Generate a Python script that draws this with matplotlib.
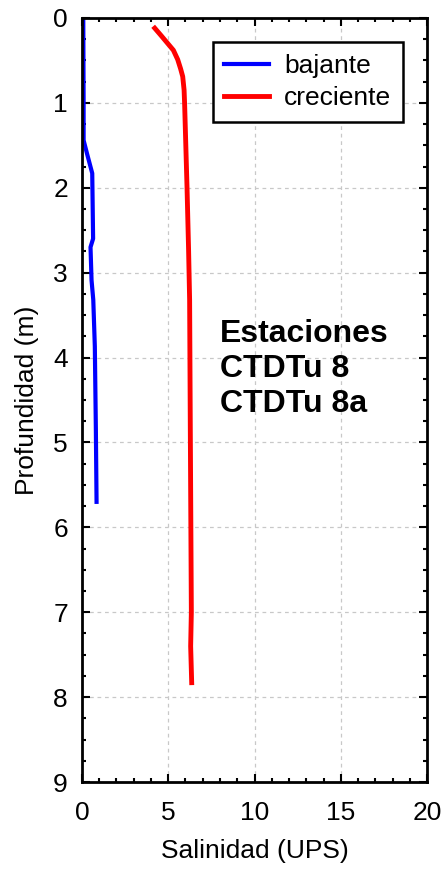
import matplotlib
matplotlib.use("Agg")
import matplotlib.pyplot as plt
from matplotlib.ticker import MultipleLocator

plt.rcParams['font.family'] = ['Liberation Sans', 'DejaVu Sans']

# bajante (blue): salinity vs depth
baj_sal = [0.08, 0.09, 0.10, 0.10, 0.30, 0.60, 0.65, 0.50, 0.56, 0.66, 0.75, 0.81, 0.85]
baj_dep = [0.00, 0.50, 1.00, 1.44, 1.60, 1.83, 2.60, 2.70, 3.09, 3.32, 3.87, 4.85, 5.70]

# creciente (red)
cre_sal = [4.22, 4.60, 4.97, 5.30, 5.55, 5.72, 5.84, 5.92, 5.95, 6.09, 6.18, 6.24, 6.28, 6.34, 6.30, 6.36]
cre_dep = [0.12, 0.21, 0.30, 0.38, 0.49, 0.60, 0.69, 0.85, 1.01, 2.00, 2.73, 3.32, 4.85, 7.00, 7.40, 7.83]

xticks = [0, 5, 10, 15, 20]
yticks = [0, 1, 2, 3, 4, 5, 6, 7, 8, 9]
xlabel = "Salinidad (UPS)"
ylabel = "Profundidad (m)"
series_labels = ["bajante", "creciente"]
annot = "Estaciones\nCTDTu 8\nCTDTu 8a"

fig = plt.figure(figsize=(4.45, 8.76), dpi=100)
ax = fig.add_axes([0.184, 0.1073, 0.776, 0.8722])

ax.plot(baj_sal, baj_dep, color='#0000ff', lw=3, label=series_labels[0])
ax.plot(cre_sal, cre_dep, color='#ff0000', lw=3.5, label=series_labels[1])

ax.set_xlim(0, 20)
ax.set_ylim(9, 0)
ax.set_xticks(xticks)
ax.set_yticks(yticks)
ax.xaxis.set_minor_locator(MultipleLocator(1))
ax.yaxis.set_minor_locator(MultipleLocator(0.25))
ax.tick_params(which='both', direction='in', top=True, right=True, labelsize=19, width=1.5)
ax.tick_params(which='major', length=6)
ax.tick_params(axis='x', which='major', pad=14)
ax.tick_params(axis='y', which='major', pad=10)
ax.tick_params(which='minor', length=3)
ax.grid(True, which='major', ls=(0, (3, 3)), color='#c8c8c8', lw=0.9)
for s in ax.spines.values():
    s.set_linewidth(2)

ax.set_xlabel(xlabel, fontsize=19, labelpad=10)
ax.set_ylabel(ylabel, fontsize=19, labelpad=10)

leg = ax.legend(loc='upper right', bbox_to_anchor=(0.931, 0.9686), fontsize=19,
                frameon=True, fancybox=False, edgecolor='black', framealpha=1,
                handlelength=1.7, handletextpad=0.57, borderpad=0.45, labelspacing=0.32,
                borderaxespad=0)
leg.get_frame().set_linewidth(1.8)

ax.text(0.4, 0.54, annot, transform=ax.transAxes, fontsize=23, fontweight='bold',
        va='center', ha='left', linespacing=1.22)

fig.savefig("out.png", dpi=100)
